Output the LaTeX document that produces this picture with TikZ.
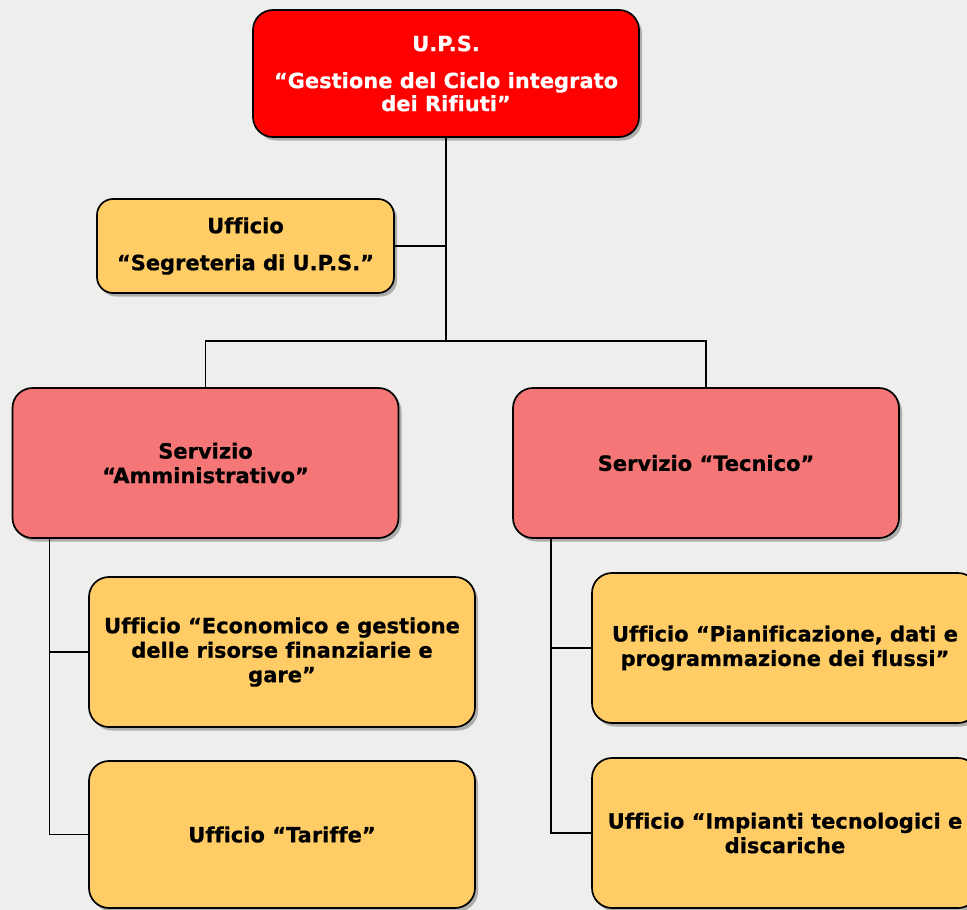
\documentclass[tikz,border=0pt]{standalone}
\usepackage{fontspec}
\setmainfont{DejaVu Sans}[Ligatures=NoCommon, BoldFeatures={FakeBold=0.6}]
\usetikzlibrary{shadows}
\definecolor{bgc}{HTML}{EEEEEC}
\definecolor{upsred}{HTML}{FF0000}
\definecolor{salmon}{HTML}{F47676}
\definecolor{yel}{HTML}{FFCC66}
\begin{document}
\begin{tikzpicture}[x=1pt,y=-1pt,
  box/.style={draw=black, line width=1.7pt, rounded corners=20pt, align=center,
    inner sep=0pt, font=\bfseries\fontsize{21}{24.5}\selectfont,
    drop shadow={shadow xshift=3pt, shadow yshift=-3.5pt, opacity=0.4, fill=black!70}},
  bigbox/.style={box, minimum width=386pt, minimum height=150pt},
  conn/.style={line width=1.5pt}]
\fill[bgc] (0,0) rectangle (967,910);
\useasboundingbox (0,0) rectangle (967,910);

\node[box, fill=upsred, text=white, minimum width=386pt, minimum height=127pt,
  font=\bfseries\fontsize{21}{23}\selectfont] (ups) at (446,73.5)
  {U.P.S.\\[14pt]“Gestione del Ciclo integrato\\dei Rifiuti”};
\node[box, fill=yel, rounded corners=16pt, minimum width=297pt, minimum height=94pt] (seg) at (245.5,246)
  {Ufficio\\[12.5pt]“Segreteria di U.P.S.”};
\node[bigbox, fill=salmon] (adm) at (205.5,463) {Servizio\\“Amministrativo”};
\node[bigbox, fill=salmon] (tec) at (706,463) {Servizio “Tecnico”};
\node[bigbox, fill=yel] (eco) at (282,652)
  {Ufficio “Economico e gestione\\delle risorse finanziarie e\\gare”};
\node[bigbox, fill=yel, minimum height=147pt] (tar) at (282,834.5) {Ufficio “Tariffe”};
\node[bigbox, fill=yel] (pia) at (785,648)
  {Ufficio “Pianificazione, dati e\\programmazione dei flussi”};
\node[bigbox, fill=yel] (imp) at (785,833)
  {Ufficio “Impianti tecnologici e\\discariche};

\coordinate (trunk) at (446,341);
\draw[conn] (ups.south) -- (trunk);
\draw[conn] (seg.east) -- (seg.east -| ups.south);
\draw[conn] (adm.north) |- (trunk) -| (tec.north);
\draw[conn] ([xshift=38pt]adm.south west) |- (eco.west);
\draw[conn] ([xshift=38pt]adm.south west) |- (tar.west);
\draw[conn] ([xshift=39pt]tec.south west) |- (pia.west);
\draw[conn] ([xshift=39pt]tec.south west) |- (imp.west);
\end{tikzpicture}
\end{document}
